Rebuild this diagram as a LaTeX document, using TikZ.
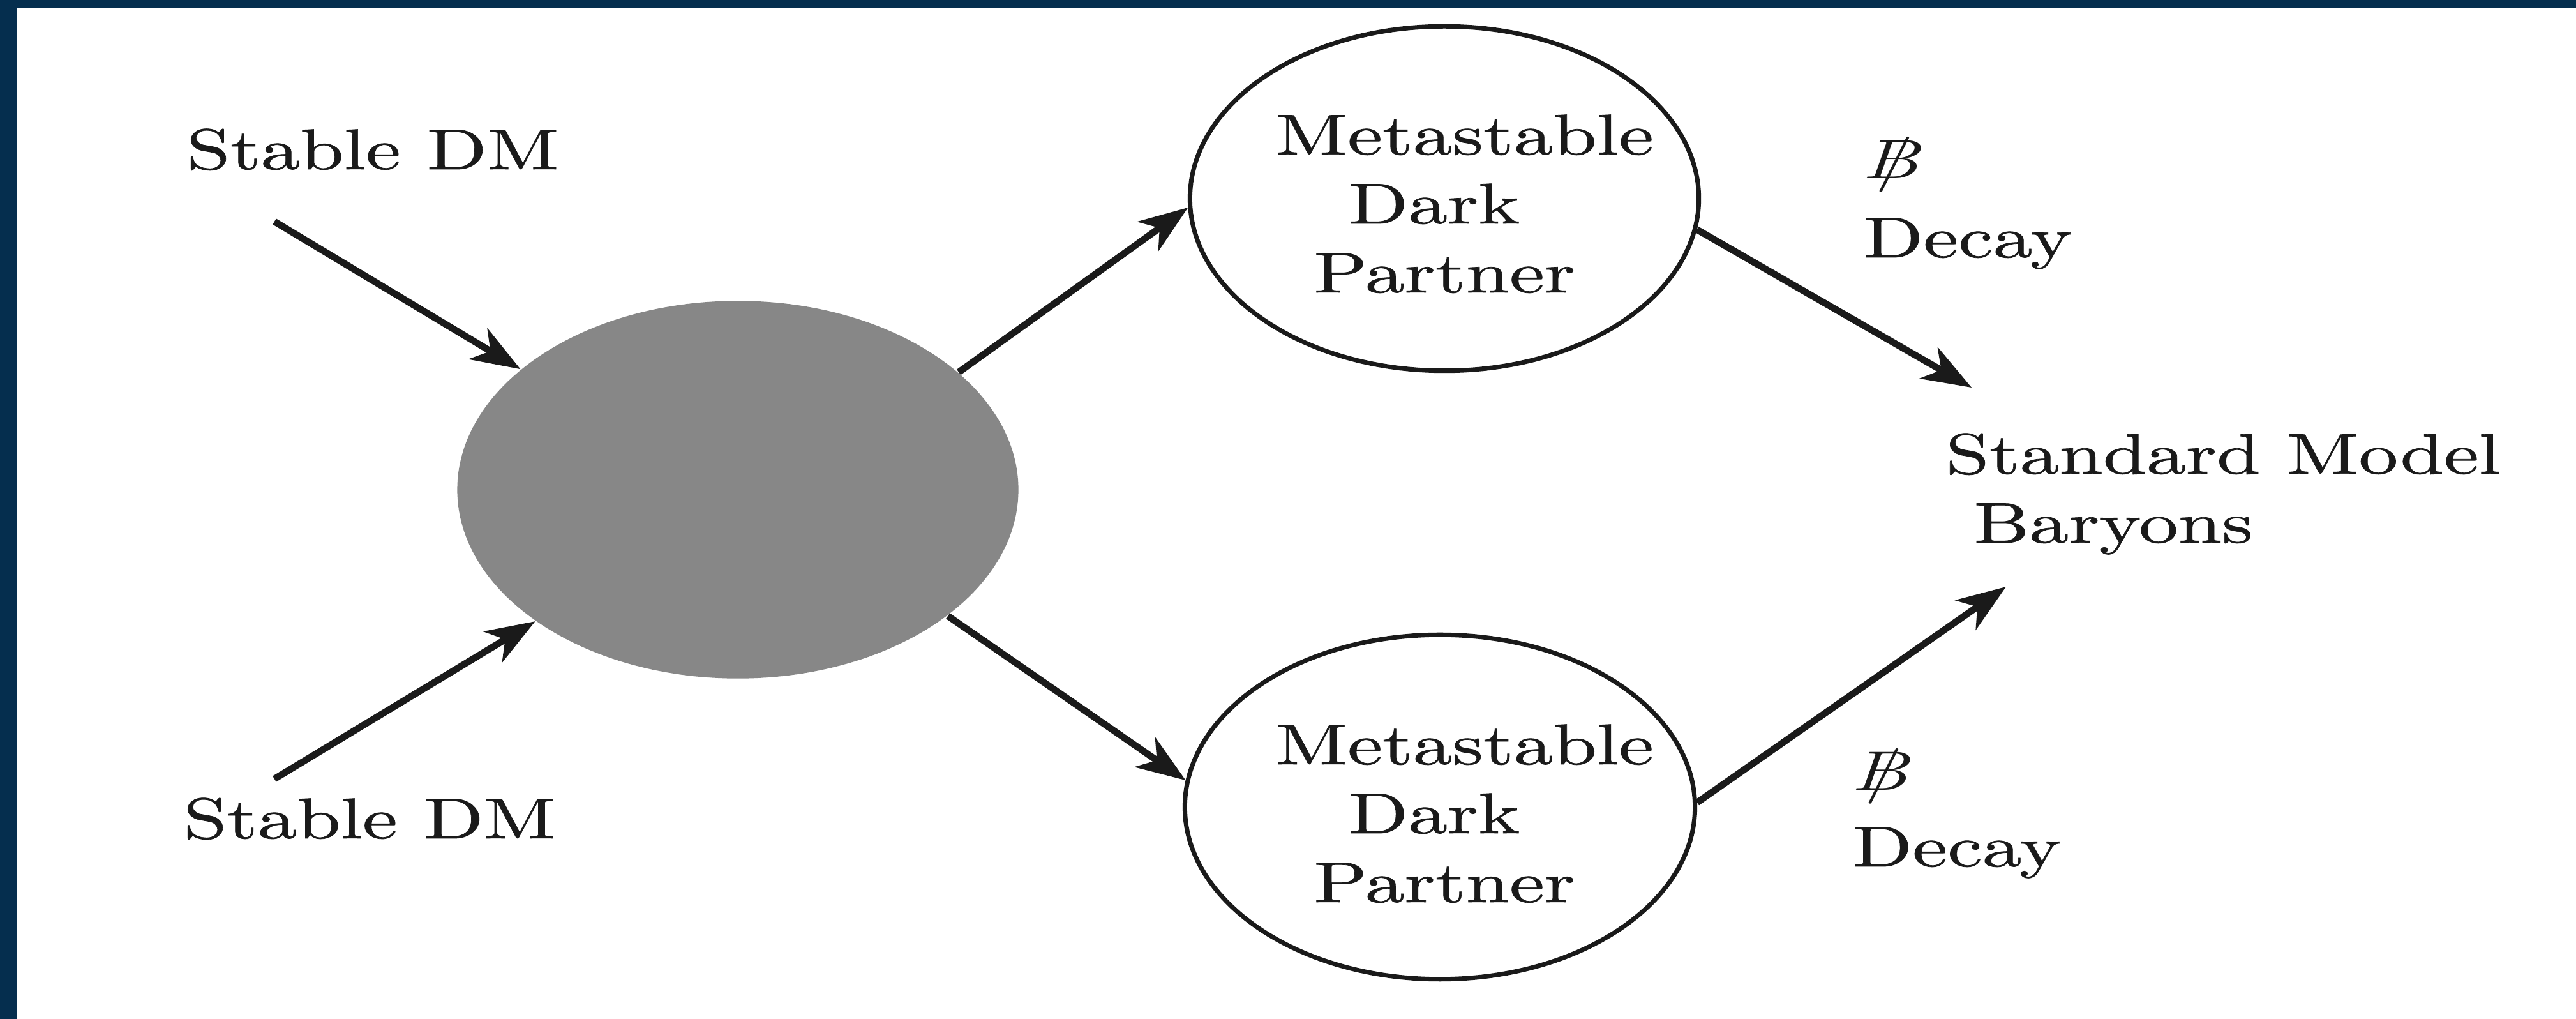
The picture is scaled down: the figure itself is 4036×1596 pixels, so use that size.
\documentclass[tikz,border=0pt]{standalone}
\usepackage{graphicx}
\usepackage{fontspec}
\setmainfont{lmroman10-regular.otf}[FakeStretch=1.37,FakeBold=0.8]
\usetikzlibrary{arrows.meta,shapes.geometric}
\definecolor{frame}{HTML}{052E4E}
\definecolor{ink}{HTML}{1A1A1A}
\definecolor{blob}{HTML}{878787}
\newcommand\nobaryon{\scalebox{1.45}[1.03]{\ooalign{$B$\cr\hidewidth$/$\hidewidth\cr}}}
\begin{document}
\begin{tikzpicture}[x=0.005cm,y=-0.005cm,
  lbl/.style={anchor=base west, inner sep=0pt, text=ink, font=\fontsize{12.8}{15.4}\selectfont},
  arr/.style={draw=ink, line width=1.5pt, -{Stealth[length=11pt,width=8pt,inset=3.2pt]}},
  partner/.style={ellipse, draw=ink, line width=1pt, fill=white, inner sep=0pt, minimum height=2.70cm},
  core/.style={ellipse, fill=blob, inner sep=0pt, minimum width=4.4cm, minimum height=2.96cm}]
% frame and page
\fill[frame] (0,0) rectangle (4036,1596);
\fill[white] (26,12) rectangle (4036,1596);
% shapes
\node[core] (blob) at (1156,767) {};
\node[partner, minimum width=3.99cm] (up) at (2263,311) {};
\node[partner, minimum width=4.0cm] (lo) at (2256,1264) {};
% free ends
\coordinate (s1) at (430,347);
\coordinate (s2) at (430,1220);
\coordinate (e1) at (3089,607);
\coordinate (e2) at (3143,919);
% connectors
\draw[arr] (s1) -- (blob.151);
\draw[arr] (s2) -- (blob.213);
\draw[arr] (blob.28) -- (up.182);
\draw[arr] (blob.-31) -- (lo.174);
\draw[arr] (up.-7) -- (e1);
\draw[arr] (lo.1) -- (e2);
% labels
\node[lbl] (sdm1) at (291,265) {Stable DM};
\node[lbl] (sdm2) at (286,1313) {Stable DM};
\node[lbl] (u1) at (1997,242) {Metastable};
\node[lbl] (u2) at (2111,350) {Dark};
\node[lbl] (u3) at (2057,458) {Partner};
\node[lbl] (l1) at (1997,1197) {Metastable};
\node[lbl] (l2) at (2111,1305) {Dark};
\node[lbl] (l3) at (2057,1413) {Partner};
\node[lbl] (b1) at (2918,280) {\nobaryon};
\node[lbl] (d1) at (2918,403) {Decay};
\node[lbl] (b2) at (2901,1238) {\nobaryon};
\node[lbl] (d2) at (2901,1357) {Decay};
\node[lbl] (sm) at (3047,742) {Standard Model};
\node[lbl] (sb) at (3091,850) {Baryons};
\end{tikzpicture}
\end{document}
